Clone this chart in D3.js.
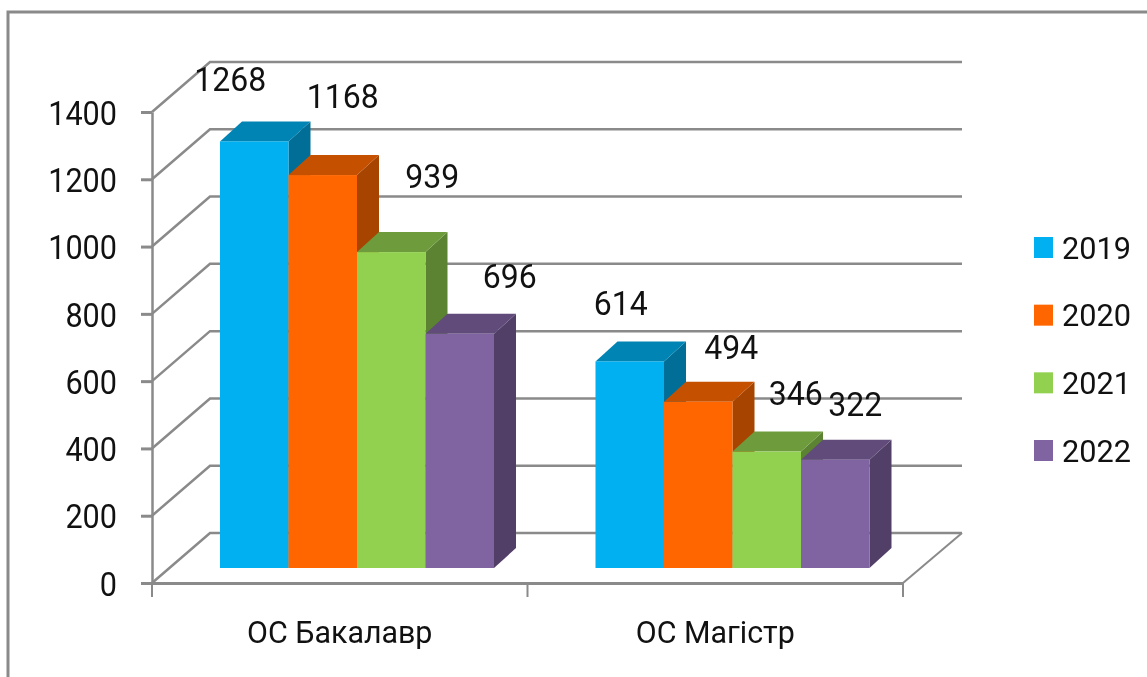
<!DOCTYPE html>
<html>
<head>
<meta charset="utf-8">
<script src="https://cdnjs.cloudflare.com/ajax/libs/d3/7.8.5/d3.min.js"></script>
<style>
    html, body { margin: 0; padding: 0; background: #fff; }
    svg { display: block; filter: blur(0.5px); }
    text { font-family: Roboto, "Open Sans", sans-serif; fill: #111; }
</style>
</head>
<body>
<script>
const categories = ["ОС Бакалавр", "ОС Магістр"]
const years = ["2019", "2020", "2021", "2022"]
const values2019 = [1268, 614]
const values2020 = [1168, 494]
const values2021 = [939, 346]
const values2022 = [696, 322]
const yTicks = [0, 200, 400, 600, 800, 1000, 1200, 1400]

const seriesValues = [values2019, values2020, values2021, values2022]

const frontColors = ["#00B0F0", "#FF6600", "#92D050", "#8064A2"]
const topColors = ["#0084B4", "#C55000", "#6E9C3C", "#604B7A"]
const sideColors = ["#006E96", "#A64400", "#5C8332", "#523F67"]

// hand placed labels in the original, offset from the top of each bar
const labelNudgeX = [[-24, -9], [20, 33], [41, 29], [50, 20]]
const labelNudgeY = [[-50, -46], [-67, -43], [-64, -47], [-46, -44]]

const width = 1147,
    height = 677
const grey = "#8a8a8a"

// depth of the chart box and of the bars
const wallDx = 58, wallDy = -50
const barDx = 22, barDy = -20
const floorGap = 15

const svg = d3.select("body").append("svg")
    .attr("width", width)
    .attr("height", height)

// the source uses a tall narrow font, so squeeze the text sideways
function condense(selection, factor) {
    selection.each(function () {
        const natural = this.getComputedTextLength()
        d3.select(this)
            .attr("textLength", natural * factor)
            .attr("lengthAdjust", "spacingAndGlyphs")
    })
}

// outer frame, runs off the right and bottom edge
svg.append("path")
    .attr("d", `M8 ${height + 5}V12H${width + 5}`)
    .attr("fill", "none")
    .attr("stroke", grey)
    .attr("stroke-width", 3)

const y = d3.scaleLinear().domain([0, 1400]).range([583, 112])
const x = d3.scaleBand().domain(categories).range([152, 903])
const xBar = d3.scaleBand().domain(years).range([68, 342])

// walls and gridlines
const grid = svg.append("g").attr("fill", "none").attr("stroke", grey)
yTicks.forEach((t) => {
    grid.append("path")
        .attr("d", d3.line()([
            [x.range()[0], y(t)],
            [x.range()[0] + wallDx, y(t) + wallDy],
            [x.range()[1] + wallDx + 1, y(t) + wallDy]
        ]))
        .attr("stroke-width", 2.5)
})
grid.append("path")
    .attr("d", d3.line()([
        [x.range()[1], y(0)],
        [x.range()[1] + wallDx + 1, y(0) + wallDy]
    ]))
    .attr("stroke-width", 2)

// axes
const yAxis = svg.append("g")
    .attr("transform", `translate(${x.range()[0]},0)`)
    .call(d3.axisLeft(y).tickValues(yTicks).tickFormat(d3.format("d")).tickSize(11).tickPadding(24).tickSizeOuter(0))
yAxis.selectAll("text").attr("font-size", 34).attr("dy", "0.36em").call(condense, 0.9)
yAxis.select(".domain").attr("stroke", grey).attr("stroke-width", 2.5)
yAxis.selectAll("line").attr("stroke", grey).attr("stroke-width", 3)

const xAxis = svg.append("g")
    .attr("transform", `translate(0,${y(0)})`)
    .call(d3.axisBottom(x).tickSize(0).tickPadding(38).tickSizeOuter(0))
xAxis.selectAll("text").attr("font-size", 31).attr("dy", "0.71em").call(condense, 0.98)
xAxis.select(".domain").attr("stroke", grey).attr("stroke-width", 3)

svg.append("g")
    .selectAll("line")
    .data([...categories, null])
    .join("line")
    .attr("x1", (d, i) => x.range()[0] + i * x.step())
    .attr("x2", (d, i) => x.range()[0] + i * x.step())
    .attr("y1", y(0))
    .attr("y2", y(0) + 14)
    .attr("stroke", grey)
    .attr("stroke-width", 2)

// bars, left to right so each one covers the side of the one before
categories.forEach((cat, c) => {
    years.forEach((year, s) => {
        const value = seriesValues[s][c]
        const x0 = x(cat) + xBar(year),
            x1 = x0 + xBar.bandwidth(),
            top = y(value) - floorGap,
            base = y(0) - floorGap

        const g = svg.append("g").attr("class", "bar")
        g.append("path")
            .attr("d", d3.line()([[x1, top], [x1 + barDx, top + barDy], [x1 + barDx, base + barDy], [x1, base]]) + "Z")
            .attr("fill", sideColors[s])
        g.append("path")
            .attr("d", d3.line()([[x0, top], [x0 + barDx, top + barDy], [x1 + barDx, top + barDy], [x1, top]]) + "Z")
            .attr("fill", topColors[s])
        g.append("rect")
            .attr("x", x0)
            .attr("y", top)
            .attr("width", x1 - x0)
            .attr("height", base - top)
            .attr("fill", frontColors[s])
    })
})

// data labels go on top of everything
categories.forEach((cat, c) => {
    years.forEach((year, s) => {
        const value = seriesValues[s][c]
        svg.append("text")
            .attr("x", x(cat) + xBar(year) + xBar.bandwidth() / 2 + labelNudgeX[s][c])
            .attr("y", y(value) - floorGap + labelNudgeY[s][c])
            .attr("text-anchor", "middle")
            .attr("font-size", 34)
            .text(value)
            .call(condense, 0.94)
    })
})

// legend
const legendY = d3.scalePoint().domain(years).range([247.5, 450.5])
const legend = svg.append("g")
    .selectAll("g")
    .data(years)
    .join("g")
    .attr("transform", (d) => `translate(1034,${legendY(d)})`)
legend.append("rect")
    .attr("y", -10.5)
    .attr("width", 19)
    .attr("height", 21)
    .attr("fill", (d, i) => frontColors[i])
legend.append("text")
    .attr("x", 28)
    .attr("y", 11)
    .attr("font-size", 31)
    .attr("textLength", 69)
    .attr("lengthAdjust", "spacingAndGlyphs")
    .text((d) => d)
</script>
</body>
</html>
